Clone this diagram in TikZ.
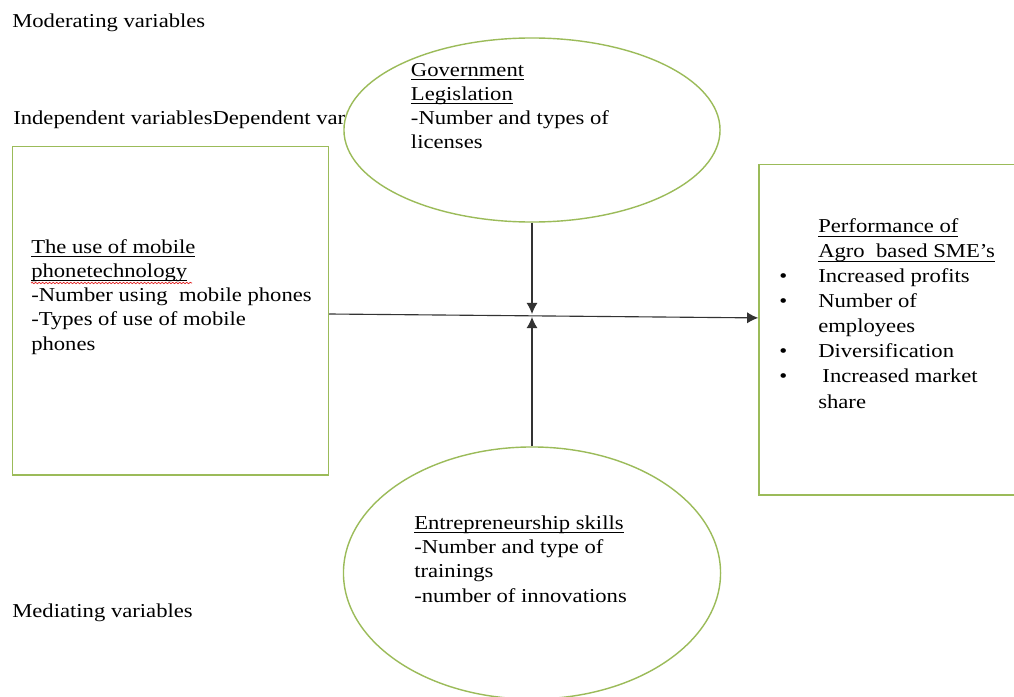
\documentclass[tikz,border=0pt]{standalone}
\usepackage{fontspec}
\setmainfont{Liberation Serif}[FakeStretch=1.15]
\usepackage{tikz}
\usetikzlibrary{arrows.meta,positioning,shapes.geometric,decorations.pathmorphing}
\definecolor{Frame_Green}{HTML}{9BBB59}
\definecolor{Arrow_Gray}{HTML}{333333}
\definecolor{Spell_Red}{HTML}{E02020}
% underline at a fixed depth
\newcommand{\headline}[1]{\setbox0\hbox{#1}\rlap{\rule[-2.6pt]{\wd0}{0.6pt}}\box0}

\begin{document}
\begin{tikzpicture}[x=0.025cm, y=-0.025cm,
    varbox/.style={draw=Frame_Green, line width=1pt, fill=white, inner sep=0pt},
    varcircle/.style={ellipse, draw=Frame_Green, line width=1pt, fill=white, inner sep=0pt},
    txt/.style={anchor=base west, inner sep=0pt, align=left, font=\fontsize{14}{17.2}\selectfont},
    flow/.style={-{Latex[length=2.8mm,width=2.8mm]}, line width=0.8pt, Arrow_Gray}]
    \useasboundingbox (0,0) rectangle (1014,697);

    % Variable group headings
    \node[txt] (modlbl) at (12,27) {Moderating variables};
    \node[txt] (indlbl) at (13,124) {Independent variablesDependent variables};
    \node[txt] (medlbl) at (12,617) {Mediating variables};

    % Boxes
    \node[varbox, minimum width=7.9cm, minimum height=8.21cm] (usebox) at (170.5,310.8) {};
    \node[varbox, minimum width=6.525cm, minimum height=8.26cm] (perfbox) at (889.5,329.9) {};

    % Ellipses (filled, so they hide what runs under them)
    \node[varcircle, minimum width=9.4cm, minimum height=4.6cm] (govt) at (532,130) {};
    \node[varcircle, minimum width=9.425cm, minimum height=6.3cm] (skills) at (532,573) {};

    % Texts (base = baseline of the last line)
    \node[txt] (govttxt) at (410.7,148.6) {\headline{Government}\\\headline{Legislation}\\-Number and types of\\licenses};
    \node[txt] (usetxt) at (31,350) {\headline{The use of mobile}\\\headline{phonetechnology}\\-Number using\ \ mobile phones\\-Types of use of mobile\\phones};
    \node[txt, font=\fontsize{14}{17.8}\selectfont] (perftxt) at (818,408) {\headline{Performance of}\\\headline{Agro\ \ based SME's}\\
        \llap{\textbullet\hspace{22pt}}Increased profits\\
        \llap{\textbullet\hspace{22pt}}Number of\\employees\\
        \llap{\textbullet\hspace{22pt}}Diversification\\
        \llap{\textbullet\hspace{22pt}}\hspace{3pt}Increased market\\share};
    \node[txt] (skilltxt) at (414,602) {\headline{Entrepreneurship skills}\\-Number and type of\\trainings\\-number of innovations};

    % Spelling squiggle
    \draw[Spell_Red, line width=0.5pt, decorate, decoration={snake, amplitude=0.5pt, segment length=2.5pt}] (31,283) -- (192,283);

    % Arrows
    \coordinate (downtip) at (532,314);
    \coordinate (uptip) at (532,317);
    \draw[flow] ([yshift=-0.08cm]usebox.east) -- ([yshift=0.3cm]perfbox.west);
    \draw[flow] (govt.south) -- (downtip);
    \draw[flow] (skills.north) -- (uptip);

\end{tikzpicture}
\end{document}
